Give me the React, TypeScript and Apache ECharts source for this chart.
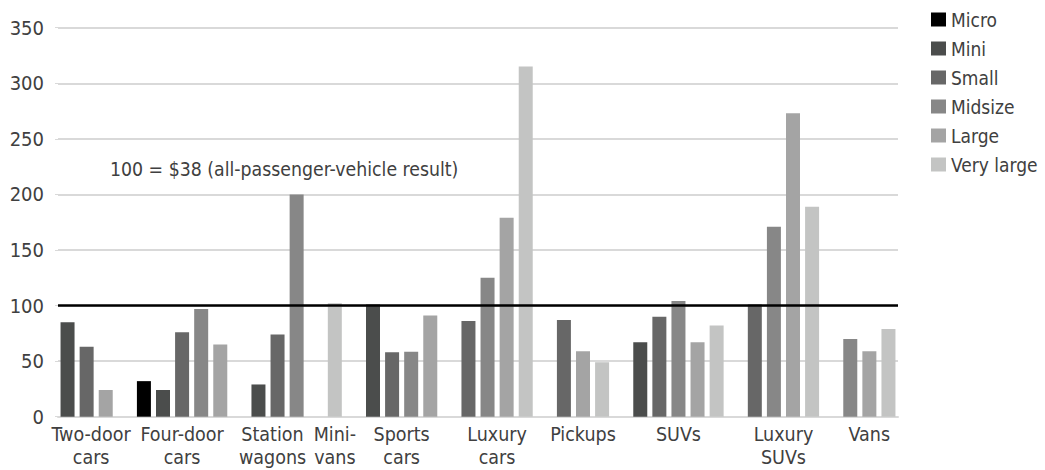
import { useEffect, useRef } from "react";
import * as echarts from "echarts";

const categories = [
  "Two-door\ncars",
  "Four-door\ncars",
  "Station\nwagons",
  "Mini-\nvans",
  "Sports\ncars",
  "Luxury\ncars",
  "Pickups",
  "SUVs",
  "Luxury\nSUVs",
  "Vans",
];
const sizeClasses = ["Micro", "Mini", "Small", "Midsize", "Large", "Very large"];
const micro = [null, 32, null, null, null, null, null, null, null, null];
const mini = [85, 24, 29, null, 101, null, null, 67, null, null];
const small = [63, 76, 74, null, 58, 86, 87, 90, 101, null];
const midsize = [null, 97, 200, null, 58.5, 125, null, 104, 171, 70];
const large = [24, 65, null, null, 91, 179, 59, 67, 273, 59];
const veryLarge = [null, null, null, 102, null, 315, 49, 82, 189, 79];
const yTickValues = [0, 50, 100, 150, 200, 250, 300, 350];
const referenceValue = 100;
const noteText = "100 = $38 (all-passenger-vehicle result)";
const sizeColors = ["#000000", "#4b4d4c", "#676767", "#878787", "#a4a4a4", "#c3c4c3"];

const FONT = "'Liberation Sans Narrow', 'DejaVu Sans Condensed', sans-serif";
const TEXT = "#404040";

function buildLayout() {
  const bySize = [micro, mini, small, midsize, large, veryLarge];
  const slots: { size: number; value: number }[] = [];
  const centers: number[] = [];
  categories.forEach((_, ci) => {
    if (ci > 0) slots.push({ size: -1, value: 0 });
    const start = slots.length;
    bySize.forEach((arr, si) => {
      const v = arr[ci];
      if (v !== null && v !== undefined) slots.push({ size: si, value: v as number });
    });
    const end = slots.length;
    centers.push((start + end) / 2);
  });
  const seriesData = sizeClasses.map((_, si) =>
    slots.map((s) => (s.size === si ? s.value : null))
  );
  return { slotCount: slots.length, centers, seriesData };
}

export default function App() {
  const ref = useRef<HTMLDivElement>(null);
  useEffect(() => {
    if (!ref.current) return;
    const chart = echarts.init(ref.current, null, { renderer: "svg" });
    const { slotCount, centers, seriesData } = buildLayout();
    const slotNames = Array.from({ length: slotCount }, (_, i) => String(i));
    // half-slot label axis: position i sits at i/2 slots
    const halfNames = Array.from({ length: slotCount * 2 + 1 }, (_, i) => {
      const ci = centers.findIndex((c) => Math.round(c * 2) === i);
      return ci >= 0 ? categories[ci] : "";
    });
    const styleFor = (name: string) =>
      name.startsWith("Two-door") ? "r" : name.startsWith("Station") ? "l" : "n";
    const series: any[] = sizeClasses.map((name, si) => ({
      name,
      type: "bar",
      stack: "all",
      xAxisIndex: 0,
      data: seriesData[si],
      barWidth: 14,
      itemStyle: { color: sizeColors[si] },
      ...(si === 0
        ? {
            markLine: {
              silent: true,
              symbol: ["none", "none"],
              label: { show: false },
              lineStyle: { color: "#000", width: 2.5, type: "solid" },
              data: [{ yAxis: referenceValue }],
            },
          }
        : {}),
    }));
    const base = { fontSize: 19.5, lineHeight: 22.5, color: TEXT, fontFamily: FONT };
    const labelRich = {
      n: { ...base },
      r: { ...base, padding: [0, 0, 0, 9] },
      l: { ...base, padding: [0, 10, 0, 0] },
    };
    chart.setOption({
      animation: false,
      textStyle: { fontFamily: FONT },
      grid: { left: 58, right: 147, top: 27.7, bottom: 53.3 },
      legend: {
        orient: "vertical",
        left: 926,
        top: 5,
        icon: "rect",
        itemWidth: 15,
        itemHeight: 14,
        itemGap: 10,
        selectedMode: false,
        data: sizeClasses,
        textStyle: { fontSize: 19, color: TEXT, fontFamily: FONT },
      },
      xAxis: [
        {
          type: "category",
          data: slotNames,
          position: "bottom",
          axisLine: { show: true, lineStyle: { color: "#d9d9d9", width: 2 } },
          axisTick: { show: false },
          axisLabel: { show: false },
          splitLine: { show: false },
        },
        {
          type: "category",
          data: halfNames,
          boundaryGap: false,
          position: "bottom",
          axisLine: { show: false },
          axisTick: { show: false },
          splitLine: { show: false },
          axisLabel: {
            show: true,
            interval: 0,
            margin: 7,
            hideOverlap: false,
            formatter: (v: string) => {
              if (!v) return "";
              const s = styleFor(v);
              return v
                .split("\n")
                .map((line) => `{${s}|${line}}`)
                .join("\n");
            },
            rich: labelRich,
          },
        },
      ],
      yAxis: {
        type: "value",
        min: yTickValues[0],
        max: yTickValues[yTickValues.length - 1],
        interval: yTickValues[1] - yTickValues[0],
        axisLine: { show: false },
        axisTick: { show: true, length: 3, lineStyle: { color: "#d9d9d9" } },
        axisLabel: { fontSize: 20, color: TEXT, fontFamily: FONT, margin: 14 },
        splitLine: { show: true, lineStyle: { color: "#d9d9d9", width: 2 } },
      },
      graphic: [
        {
          type: "text",
          left: 110,
          top: 160,
          style: { text: noteText, fontSize: 19.3, fill: TEXT, fontFamily: FONT },
        },
      ],
      series,
    });
    return () => chart.dispose();
  }, []);
  return (
    <div
      ref={ref}
      style={{ position: "fixed", left: 0, top: 0, width: 1045, height: 470, background: "#fff" }}
    />
  );
}
